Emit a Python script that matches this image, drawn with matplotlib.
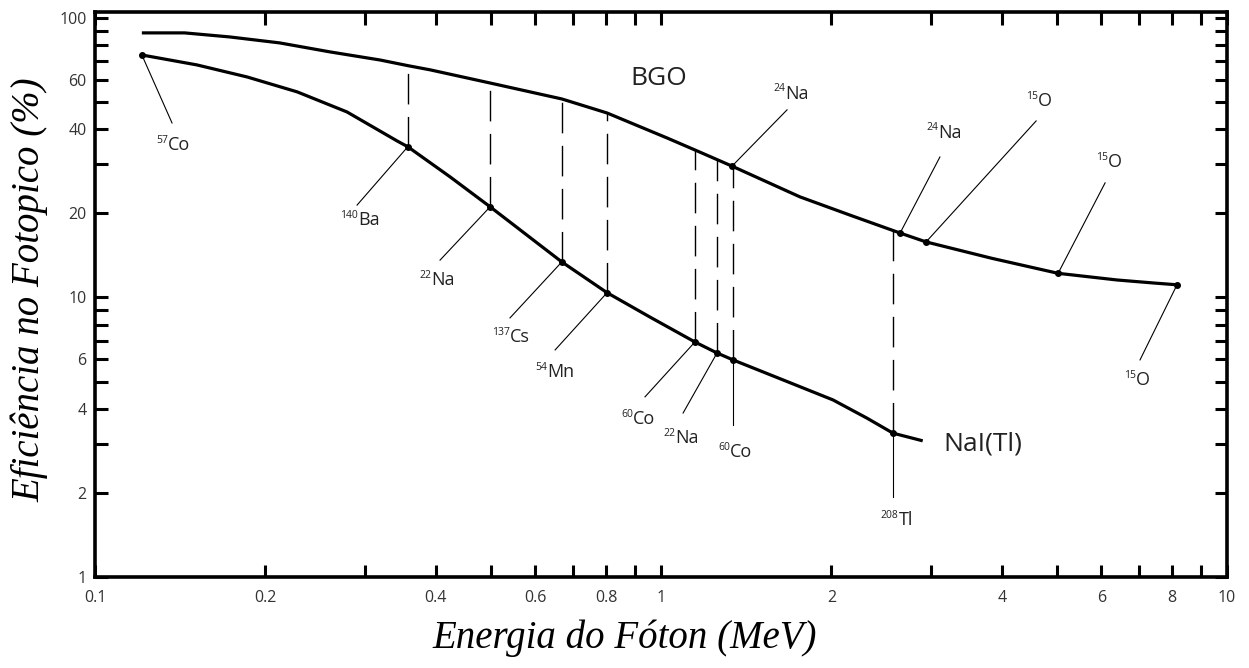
import matplotlib
matplotlib.use('Agg')
import matplotlib.pyplot as plt
import numpy as np

plt.rcParams['font.family'] = ['Open Sans', 'DejaVu Sans']

# curves (energy in MeV, efficiency in %)
bgo_energy = [0.121, 0.144, 0.173, 0.212, 0.260, 0.319, 0.357, 0.391, 0.499, 0.668,
              0.803, 1.025, 1.148, 1.335, 1.76, 2.158, 2.645, 2.94, 3.845, 5.03,
              6.39, 7.40, 8.16]
bgo_eff = [88.4, 88.4, 85.5, 81.4, 75.6, 70.7, 67.5, 65.2, 58.5, 51.3,
           45.7, 37.2, 33.7, 29.5, 22.9, 19.7, 17.0, 15.8, 13.8, 12.2,
           11.55, 11.27, 11.1]

nai_energy = [0.121, 0.1514, 0.1856, 0.2275, 0.2787, 0.3418, 0.357, 0.424, 0.499,
              0.668, 0.803, 0.956, 1.148, 1.256, 1.34, 1.643, 2.013, 2.312, 2.57, 2.90]
nai_eff = [73.7, 67.9, 61.5, 54.4, 46.1, 36.3, 34.6, 27.0, 21.1,
           13.4, 10.4, 8.51, 6.93, 6.33, 5.98, 5.07, 4.30, 3.70, 3.27, 3.07]

# marked sources on the NaI(Tl) curve
nai_src = ['57', '140', '22', '137', '54', '60', '22', '60', '208']
nai_el = ['Co', 'Ba', 'Na', 'Cs', 'Mn', 'Co', 'Na', 'Co', 'Tl']
nai_src_e = [0.121, 0.357, 0.499, 0.668, 0.803, 1.148, 1.256, 1.34, 2.57]
nai_src_eff = [73.7, 34.6, 21.1, 13.4, 10.4, 6.93, 6.33, 5.98, 3.27]
nai_dashed = [False, True, True, True, True, True, True, True, True]

# marked sources on the BGO curve
bgo_src = ['24', '24', '15', '15', '15']
bgo_el = ['Na', 'Na', 'O', 'O', 'O']
bgo_src_e = [1.335, 2.645, 2.94, 5.03, 8.16]
bgo_src_eff = [29.5, 17.0, 15.8, 12.2, 11.1]

x_ticks = [0.1, 0.2, 0.4, 0.6, 0.8, 1, 2, 4, 6, 8, 10]
x_ticklabels = ['0.1', '0.2', '0.4', '0.6', '0.8', '1', '2', '4', '6', '8', '10']
x_minor = [0.3, 0.5, 0.7, 0.9, 3, 5, 7, 9]
y_ticks = [1, 2, 4, 6, 10, 20, 40, 60, 100]
y_ticklabels = ['1', '2', '4', '6', '10', '20', '40', '60', '100']
y_minor = [3, 5, 7, 8, 9, 30, 50, 70, 80, 90]

# layout: leader end point and label centre for each source
nai_leader = [(0.1368, 42.1), (0.2904, 21.4), (0.407, 13.6), (0.541, 8.45), (0.650, 6.49),
              (0.937, 4.41), (1.094, 3.86), (1.34, 3.50), (2.57, 1.93)]
nai_label = [(0.1374, 35.1), (0.2939, 18.9), (0.402, 11.5), (0.543, 7.22), (0.650, 5.41),
             (0.911, 3.67), (1.085, 3.14), (1.351, 2.80), (2.61, 1.60)]
bgo_leader = [(1.670, 46.9), (3.11, 31.8), (4.60, 42.8), (6.09, 25.7), (7.02, 5.98)]
bgo_label = [(1.697, 53.5), (3.16, 38.8), (4.66, 50.5), (6.19, 30.5), (6.93, 5.07)]

fig = plt.figure(figsize=(12.49, 6.68), dpi=100)
ax = fig.add_axes([95/1249, 1-577/668, (1227-95)/1249, (577-12)/668])
ax.set_xscale('log')
ax.set_yscale('log')
ax.set_xlim(0.1, 10)
ax.set_ylim(1, 105)

ax.plot(bgo_energy, bgo_eff, color='black', lw=2.3, solid_capstyle='butt',
        solid_joinstyle='round', zorder=3)
ax.plot(nai_energy, nai_eff, color='black', lw=2.3, solid_capstyle='butt',
        solid_joinstyle='round', zorder=3)

# dashed drop lines from BGO curve to NaI points
lb_e = np.log10(bgo_energy)
lb_y = np.log10(bgo_eff)
for e, y, d in zip(nai_src_e, nai_src_eff, nai_dashed):
    if not d:
        continue
    top = 10**np.interp(np.log10(e), lb_e, lb_y)
    ax.plot([e, e], [y, top], color='black', lw=1.0, linestyle=(0, (22, 9)), zorder=2)

ax.plot(nai_src_e, nai_src_eff, 'o', color='black', ms=4, zorder=4)
ax.plot(bgo_src_e, bgo_src_eff, 'o', color='black', ms=4, zorder=4)

renderer = fig.canvas.get_renderer()


def iso_label(x, y, sup, el):
    # element name + small raised mass number, centred on (x, y)
    t_el = ax.annotate(el, (x, y), xytext=(0, 0), textcoords='offset points',
                       ha='left', va='center', fontsize=13, color='#222222')
    t_sup = ax.annotate(sup, (x, y), xytext=(0, 0), textcoords='offset points',
                        ha='right', va='center', fontsize=7.5, color='#222222')
    we = t_el.get_window_extent(renderer).width * 72 / fig.dpi
    ws = t_sup.get_window_extent(renderer).width * 72 / fig.dpi
    j = -(we + ws) / 2 + ws
    t_el.xyann = (j, 0)
    t_sup.xyann = (j, 3.5)


for i in range(len(nai_src)):
    ax.plot([nai_src_e[i], nai_leader[i][0]], [nai_src_eff[i], nai_leader[i][1]],
            color='black', lw=0.8, zorder=2)
    iso_label(nai_label[i][0], nai_label[i][1], nai_src[i], nai_el[i])

for i in range(len(bgo_src)):
    ax.plot([bgo_src_e[i], bgo_leader[i][0]], [bgo_src_eff[i], bgo_leader[i][1]],
            color='black', lw=0.8, zorder=2)
    iso_label(bgo_label[i][0], bgo_label[i][1], bgo_src[i], bgo_el[i])

ax.text(0.99, 60.5, 'BGO', ha='center', va='center', fontsize=19, color='#222222')
ax.text(3.70, 3.0, 'NaI(Tl)', ha='center', va='center', fontsize=19, color='#222222')

ax.set_xticks(x_ticks)
ax.set_xticklabels(x_ticklabels)
ax.set_xticks(x_minor, minor=True)
ax.set_yticks(y_ticks)
ax.set_yticklabels(y_ticklabels)
ax.set_yticks(y_minor, minor=True)
ax.xaxis.set_minor_formatter(plt.NullFormatter())
ax.yaxis.set_minor_formatter(plt.NullFormatter())
ax.tick_params(which='both', direction='in', length=9, width=2.2,
               top=True, right=True, labelsize=11.5, labelcolor='#333333')
ax.tick_params(axis='x', which='both', pad=9)
ax.tick_params(axis='y', which='both', pad=6)
for s in ax.spines.values():
    s.set_linewidth(2.6)

fig.text(625/1249, 1-638/668, 'Energia do Fóton (MeV)', ha='center', va='center',
         fontsize=28, family='Liberation Serif', style='italic')
fig.text(30/1249, 1-290/668, 'Eficiência no Fotopico (%)', ha='center', va='center',
         rotation=90, fontsize=28, family='Liberation Serif', style='italic')

plt.savefig('out.png', dpi=100)
